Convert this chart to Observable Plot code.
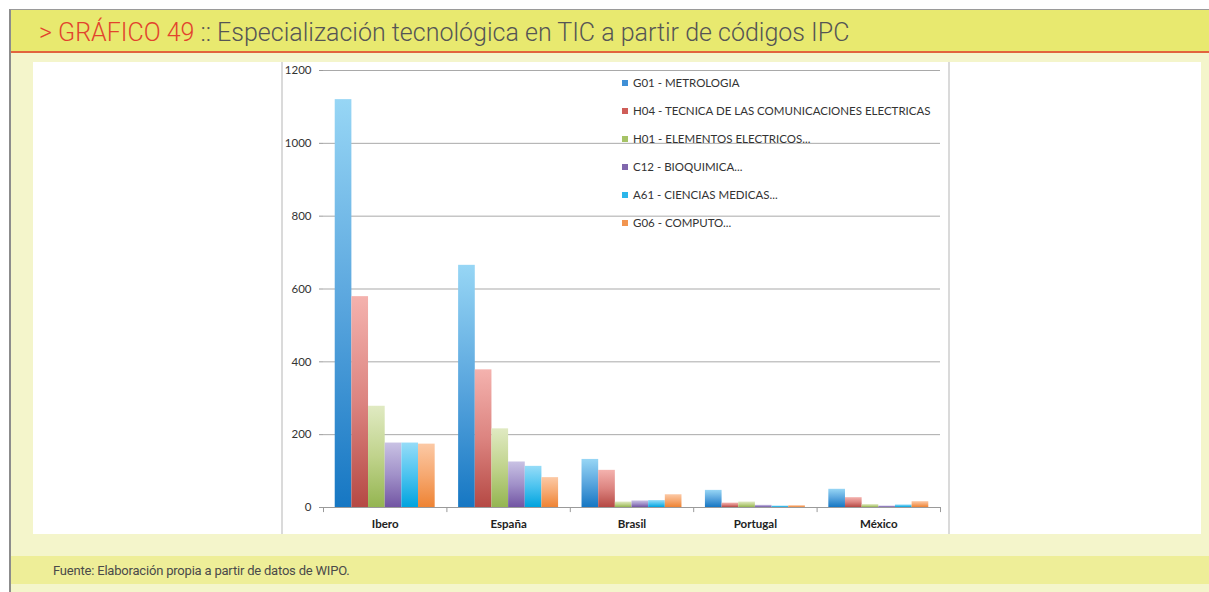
<!DOCTYPE html>
<html>
<head>
<meta charset="utf-8">
<script src="https://cdn.jsdelivr.net/npm/d3@7"></script>
<script src="https://cdn.jsdelivr.net/npm/@observablehq/plot@0.6"></script>
<style>
  html, body { margin: 0; padding: 0; }
  body { width: 1209px; height: 592px; overflow: hidden; position: relative; background: #fff; font-family: Roboto, sans-serif; }
  #sheet { position: absolute; left: 9px; top: 9px; width: 1200px; height: 583px; box-sizing: border-box;
           background: #f4f5cb; border-left: 2px solid #8c8c8c; border-top: 1px solid #9a9a9a; }
  #band { position: absolute; left: 11px; top: 10px; width: 1198px; height: 41px; background: #e8e96f;
          border-bottom: 2px solid #e2643d; }
  #title { position: absolute; left: 39px; top: 10px; height: 41px; font: 300 25px Roboto, sans-serif; line-height: 46px;
           color: #555; white-space: nowrap; }
  #title .num { color: #e2432d; }
  #panel { position: absolute; left: 33px; top: 62px; width: 1168px; height: 472px; background: #fff; overflow: hidden; }
  .edge { position: absolute; top: 0; width: 2px; height: 472px; background: #dadada; }
  #legend { position: absolute; left: 589px; top: 13px; font: 11.5px Lato, sans-serif; color: #333; }
  #legend .row { position: absolute; left: 0; height: 16px; line-height: 16px; white-space: nowrap; }
  #legend .sw { position: absolute; left: 0; top: 5px; width: 6px; height: 6px; }
  #legend .lab { position: absolute; left: 11px; top: 0; }
  #foot { position: absolute; left: 11px; top: 556px; width: 1198px; height: 28px; background: #eeee98; }
  #source { position: absolute; left: 53px; top: 556px; height: 28px; font: 13px Roboto, sans-serif; line-height: 30px;
            color: #4a4a4a; letter-spacing: -0.2px; white-space: nowrap; }
</style>
</head>
<body>
<div id="sheet"></div>
<div id="band"></div>
<div id="title"><span class="num">&gt; GRÁFICO 49</span> :: Especialización tecnológica en TIC a partir de códigos IPC</div>
<div id="panel">
  <div class="edge" style="left:248px"></div>
  <div class="edge" style="left:915px"></div>
  <div id="chart"></div>
  <div id="legend"></div>
</div>
<div id="foot"></div>
<div id="source">Fuente: Elaboración propia a partir de datos de WIPO.</div>
<script>
// Countries / regions on the category axis
const countries = ["Ibero", "España", "Brasil", "Portugal", "México"];

// IPC codes and their legend labels
const codes = ["G01", "H04", "H01", "C12", "A61", "G06"];
const labels = [
  "G01 - METROLOGIA",
  "H04 - TECNICA DE LAS COMUNICACIONES ELECTRICAS",
  "H01 - ELEMENTOS ELECTRICOS...",
  "C12 - BIOQUIMICA...",
  "A61 - CIENCIAS MEDICAS...",
  "G06 - COMPUTO..."
];

// Patent counts per code, in the order of `countries`
const g01 = [1120, 665, 132, 47, 50];
const h04 = [579, 378, 102, 12, 27];
const h01 = [278, 216, 15, 15, 8];
const c12 = [177, 125, 18, 6, 4];
const a61 = [177, 113, 19, 4, 7];
const g06 = [174, 82, 35, 5, 16];

const yTicks = [0, 200, 400, 600, 800, 1000, 1200];

// Vertical gradients (top, middle, bottom) per code, plus a flat swatch colour
const gradients = {
  G01: ["#97d6f5", "#5aa6de", "#1677c3"],
  H04: ["#f4b2ae", "#dc8480", "#b54944"],
  H01: ["#e0eac2", "#c0d38c", "#94b551"],
  C12: ["#c9c2e4", "#a191c9", "#7255a3"],
  A61: ["#96dcf8", "#4cc3ef", "#00a3de"],
  G06: ["#fcc9a5", "#f6a870", "#ee8333"]
};
const swatch = { G01: "#3f8fd6", H04: "#cf5d58", H01: "#a6c366", C12: "#8067ad", A61: "#2cb6ea", G06: "#f29550" };

const seriesValues = [g01, h04, h01, c12, a61, g06];
const rows = codes.flatMap((code, j) =>
  countries.map((country, i) => ({ code, country, value: seriesValues[j][i] }))
);

const W = 1168, H = 472;
const mL = 290, mR = 261, mT = 8, mB = 27;
const padInner = 0.19, padOuter = 0.095;
const step = (W - mL - mR) / (countries.length - padInner + 2 * padOuter);
const bandW = step * (1 - padInner);
const barW = bandW / codes.length;

const marks = [
  Plot.gridY(yTicks.slice(1), { stroke: "#a9a9a9", strokeOpacity: 1 }),
  Plot.axisY(yTicks, { tickSize: 4, text: null, label: null, stroke: "#9a9a9a", line: true }),
  Plot.axisY(yTicks, { tickSize: 0, tickPadding: 12, label: null, tickFormat: d => String(d),
                       fontSize: 11.5, fontFamily: "Lato, sans-serif", fill: "#333" }),
  ...codes.map((code, j) =>
    Plot.barY(rows.filter(d => d.code === code), {
      x: "country",
      y: "value",
      fill: `url(#grad-${code})`,
      insetLeft: j * barW,
      insetRight: (codes.length - 1 - j) * barW
    })
  ),
  Plot.ruleY([0], { stroke: "#9a9a9a", strokeWidth: 1.2 }),
  // category boundary ticks below the baseline
  Plot.ruleX(countries, { x: d => d, dx: -step / 2, y1: 0, y2: -14, stroke: "#9a9a9a" }),
  Plot.ruleX(countries.slice(-1), { x: d => d, dx: step / 2, y1: 0, y2: -14, stroke: "#9a9a9a" }),
  Plot.axisX(countries, { tickSize: 0, tickPadding: 12, label: null, fontSize: 11.5, fontWeight: "bold",
                          fontFamily: "Lato, sans-serif", fill: "#222" })
];

const chart = Plot.plot({
  width: W,
  height: H,
  marginLeft: mL,
  marginRight: mR,
  marginTop: mT,
  marginBottom: mB,
  style: { background: "transparent", overflow: "visible" },
  x: { domain: countries, paddingInner: padInner, paddingOuter: padOuter, round: false, axis: null, label: null },
  y: { domain: [0, 1200], axis: null, label: null },
  marks
});

const svg = d3.select(chart);
const defs = svg.insert("defs", ":first-child");
for (const code of codes) {
  const [c0, c1, c2] = gradients[code];
  const g = defs.append("linearGradient")
    .attr("id", `grad-${code}`)
    .attr("x1", 0).attr("y1", 0).attr("x2", 0).attr("y2", 1);
  g.append("stop").attr("offset", "0%").attr("stop-color", c0);
  g.append("stop").attr("offset", "50%").attr("stop-color", c1);
  g.append("stop").attr("offset", "100%").attr("stop-color", c2);
}
document.getElementById("chart").appendChild(chart);

// Legend inside the plot area
const legend = d3.select("#legend");
codes.forEach((code, j) => {
  const row = legend.append("div").attr("class", "row").style("top", `${j * 28}px`);
  row.append("div").attr("class", "sw").style("background", swatch[code]);
  row.append("div").attr("class", "lab").text(labels[j]);
});
</script>
</body>
</html>
